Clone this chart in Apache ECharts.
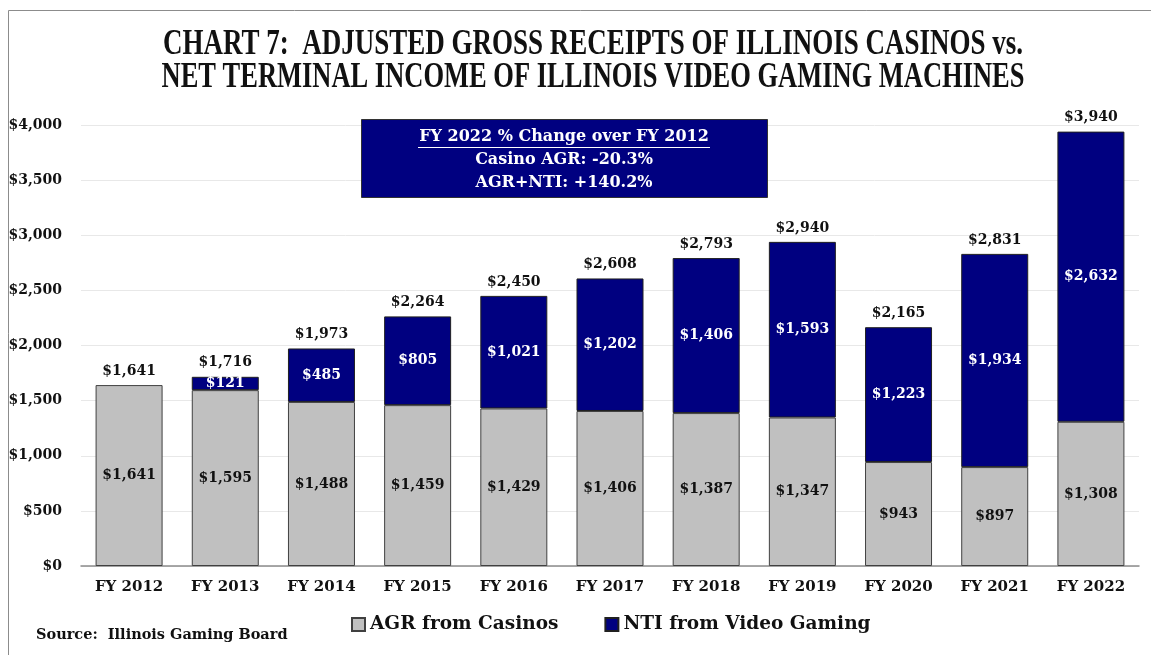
<!DOCTYPE html>
<html>
<head>
<meta charset="utf-8">
<script src="https://cdn.jsdelivr.net/npm/echarts@6/dist/echarts.min.js"></script>
<style>
  html, body { margin: 0; padding: 0; background: #fff; }
  #chart { width: 1151px; height: 655px; }
</style>
</head>
<body>
<div id="chart"></div>
<script>
// data ($ millions)
const years = ['FY 2012', 'FY 2013', 'FY 2014', 'FY 2015', 'FY 2016', 'FY 2017',
  'FY 2018', 'FY 2019', 'FY 2020', 'FY 2021', 'FY 2022']
const casinoAgr = [1641, 1595, 1488, 1459, 1429, 1406, 1387, 1347, 943, 897, 1308]
const videoNti = [0, 121, 485, 805, 1021, 1202, 1406, 1593, 1223, 1934, 2632]
const totals = [1641, 1716, 1973, 2264, 2450, 2608, 2793, 2940, 2165, 2831, 3940]
const yTicks = [0, 500, 1000, 1500, 2000, 2500, 3000, 3500, 4000]

const serif = '"DejaVu Serif", serif'
const money = v => '$' + v.toLocaleString('en-US')

// title is a condensed serif in the original, squeeze each line to its width
const titleLines = [
  'CHART 7:  ADJUSTED GROSS RECEIPTS OF ILLINOIS CASINOS vs.',
  'NET TERMINAL INCOME OF ILLINOIS VIDEO GAMING MACHINES'
]
const titleWidths = [860, 863]
const titleFont = 'bold 35px "Liberation Serif"'
const ctx = document.createElement('canvas').getContext('2d')
ctx.font = titleFont
const titleScales = titleLines.map((t, i) => titleWidths[i] / ctx.measureText(t).width)

function chart() {
  const myChart = echarts.init(document.getElementById('chart'))

  const option = {
    backgroundColor: '#fff',
    animation: false,
    textStyle: { fontFamily: serif },
    grid: { left: 81, right: 12, top: 125, bottom: 89 },
    legend: {
      data: ['AGR from Casinos', 'NTI from Video Gaming'],
      left: 346,
      top: 610,
      icon: 'rect',
      itemWidth: 13,
      itemHeight: 13,
      itemGap: 46,
      textStyle: { fontFamily: serif, fontWeight: 'bold', fontSize: 18.5, color: '#111' }
    },
    xAxis: {
      type: 'category',
      data: years,
      axisLine: { lineStyle: { color: '#8c8c8c', width: 1.5 } },
      axisTick: { show: false },
      axisLabel: {
        color: '#111',
        fontWeight: 'bold',
        fontSize: 15,
        margin: 14
      }
    },
    yAxis: {
      type: 'value',
      min: yTicks[0],
      max: yTicks[yTicks.length - 1],
      interval: 500,
      axisLine: { show: false },
      axisTick: { show: false },
      splitLine: { lineStyle: { color: '#e8e8e8' } },
      axisLabel: {
        color: '#111',
        fontWeight: 'bold',
        fontSize: 14,
        margin: 19,
        formatter: v => money(v)
      }
    },
    series: [{
      name: 'AGR from Casinos',
      type: 'bar',
      stack: 'total',
      barWidth: 67,
      data: casinoAgr,
      itemStyle: { color: '#c0c0c0', borderColor: '#404040', borderWidth: 1 },
      label: {
        show: true,
        position: 'inside',
        color: '#111',
        fontWeight: 'bold',
        fontSize: 14,
        formatter: p => money(p.value)
      }
    }, {
      name: 'NTI from Video Gaming',
      type: 'bar',
      stack: 'total',
      data: videoNti.map(v => v === 0
        ? { value: 0, itemStyle: { borderWidth: 0 }, label: { show: false } }
        : v),
      itemStyle: { color: '#000080', borderColor: '#202020', borderWidth: 1 },
      label: {
        show: true,
        position: 'inside',
        color: '#fff',
        fontWeight: 'bold',
        fontSize: 14,
        formatter: p => money(p.value)
      }
    }, {
      // invisible cap that carries the total label
      name: 'total',
      type: 'bar',
      stack: 'total',
      silent: true,
      data: totals.map(() => 0),
      itemStyle: { color: 'rgba(0,0,0,0)', borderWidth: 0 },
      label: {
        show: true,
        position: 'top',
        distance: 7,
        color: '#111',
        fontWeight: 'bold',
        fontSize: 14,
        formatter: p => money(totals[p.dataIndex])
      }
    }],
    graphic: [
      // chart frame
      {
        type: 'rect',
        shape: { x: 8.5, y: 10.5, width: 1300, height: 800 },
        style: { fill: 'none', stroke: '#8c8c8c', lineWidth: 1 },
        silent: true
      },
      ...titleLines.map((t, i) => ({
        type: 'text',
        x: 593,
        y: 45 + i * 33,
        scaleX: titleScales[i],
        style: {
          text: t,
          font: titleFont,
          fill: '#111',
          textAlign: 'center',
          textVerticalAlign: 'middle'
        }
      })),
      // % change box
      {
        type: 'rect',
        shape: { x: 361.5, y: 119.5, width: 406, height: 78 },
        style: { fill: '#000080', stroke: '#333', lineWidth: 1 },
        z: 10
      },
      {
        type: 'text',
        x: 564,
        y: 137,
        z: 11,
        style: {
          text: 'FY 2022 % Change over FY 2012',
          fontFamily: serif, fontWeight: 'bold', fontSize: 16,
          fill: '#fff', textAlign: 'center', textVerticalAlign: 'middle'
        }
      },
      {
        type: 'line',
        z: 11,
        shape: { x1: 418, y1: 147.5, x2: 710, y2: 147.5 },
        style: { stroke: '#fff', lineWidth: 1 }
      },
      {
        type: 'text',
        x: 564,
        y: 160,
        z: 11,
        style: {
          text: 'Casino AGR: -20.3%',
          fontFamily: serif, fontWeight: 'bold', fontSize: 16,
          fill: '#fff', textAlign: 'center', textVerticalAlign: 'middle'
        }
      },
      {
        type: 'text',
        x: 564,
        y: 183,
        z: 11,
        style: {
          text: 'AGR+NTI: +140.2%',
          fontFamily: serif, fontWeight: 'bold', fontSize: 16,
          fill: '#fff', textAlign: 'center', textVerticalAlign: 'middle'
        }
      },
      {
        type: 'text',
        left: 36,
        top: 628,
        style: {
          text: 'Source:  Illinois Gaming Board',
          fontFamily: serif, fontWeight: 'bold', fontSize: 14.5, fill: '#111'
        }
      }
    ]
  }

  option && myChart.setOption(option)
}

chart()
</script>
</body>
</html>
